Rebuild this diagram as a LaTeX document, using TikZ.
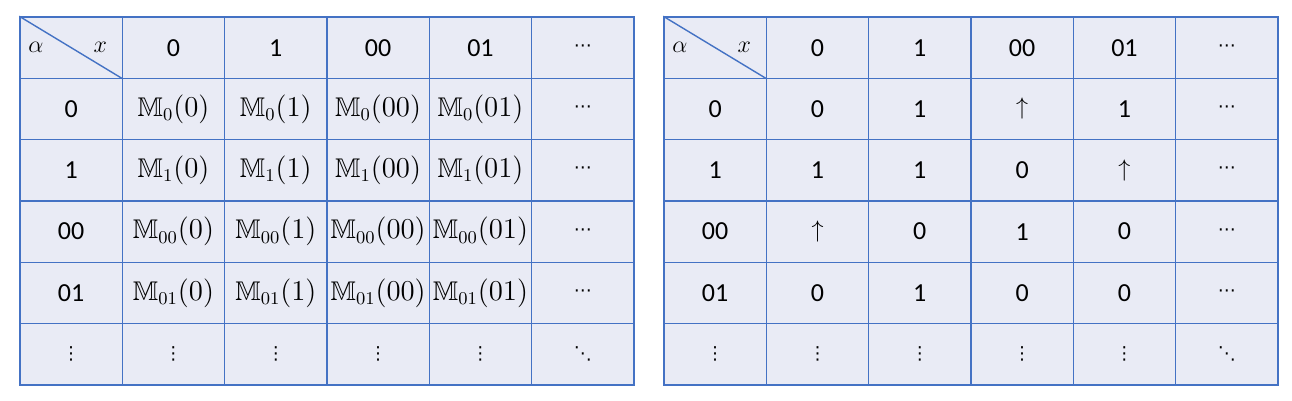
\documentclass[tikz,border=0pt]{standalone}
\usepackage{amsmath, amssymb}
\usepackage[no-math]{fontspec}
\setmainfont{Carlito}
\newfontfamily\symfont{DejaVu Sans}
\usetikzlibrary{positioning}

\definecolor{cellfill}{HTML}{E9EBF5}
\definecolor{cellline}{HTML}{4472C4}
\newcommand{\Mval}[2]{{\fontsize{13.5}{15}\selectfont$\mathbb{M}_{#1}(#2)$}}
\newcommand{\hd}{{\symfont\fontsize{9}{11}\selectfont ⋯}}
\newcommand{\vd}{{\symfont\fontsize{9}{11}\selectfont ⋮}}
\newcommand{\dd}{{\symfont\fontsize{9}{11}\selectfont ⋱}}

\begin{document}
\begin{tikzpicture}[x=0.5pt,y=0.5pt,
                    cell/.style={draw=cellline,fill=cellfill,line width=0.7pt,
                      minimum width=51.17pt,minimum height=30.67pt,inner sep=0pt},
                    every node/.style={font=\fontsize{13}{15}\selectfont}]
  \useasboundingbox (0,0) rectangle (1292,401);

  % left table
  \foreach \row [count=\r from 0] in {
      {{},0,1,00,01,\hd},
      {0,\Mval{0}{0},\Mval{0}{1},\Mval{0}{00},\Mval{0}{01},\hd},
      {1,\Mval{1}{0},\Mval{1}{1},\Mval{1}{00},\Mval{1}{01},\hd},
      {00,\Mval{00}{0},\Mval{00}{1},\Mval{00}{00},\Mval{00}{01},\hd},
      {01,\Mval{01}{0},\Mval{01}{1},\Mval{01}{00},\Mval{01}{01},\hd},
      {\vd,\vd,\vd,\vd,\vd,\dd}}
    \foreach \t [count=\c from 0] in \row
      \node[cell] (L-\r-\c) at ({20+(\c+0.5)*102.33},{384-(\r+0.5)*61.33}) {\t};

  % right table
  \foreach \row [count=\r from 0] in {
      {{},0,1,00,01,\hd},
      {0,0,1,$\uparrow$,1,\hd},
      {1,1,1,0,$\uparrow$,\hd},
      {00,$\uparrow$,0,1,0,\hd},
      {01,0,1,0,0,\hd},
      {\vd,\vd,\vd,\vd,\vd,\dd}}
    \foreach \t [count=\c from 0] in \row
      \node[cell] (R-\r-\c) at ({664+(\c+0.5)*102.33},{384-(\r+0.5)*61.33}) {\t};

  % corner cells
  \draw[cellline,line width=0.7pt] (L-0-0.north west) -- (L-0-0.south east);
  \node[right=1pt of L-0-0.west] (L-alpha) {$\alpha$};
  \node[left=4.5pt of L-0-0.east] (L-x) {$x$};
  \draw[cellline,line width=0.7pt] (R-0-0.north west) -- (R-0-0.south east);
  \node[right=1pt of R-0-0.west] (R-alpha) {$\alpha$};
  \node[left=4.5pt of R-0-0.east] (R-x) {$x$};
\end{tikzpicture}
\end{document}
